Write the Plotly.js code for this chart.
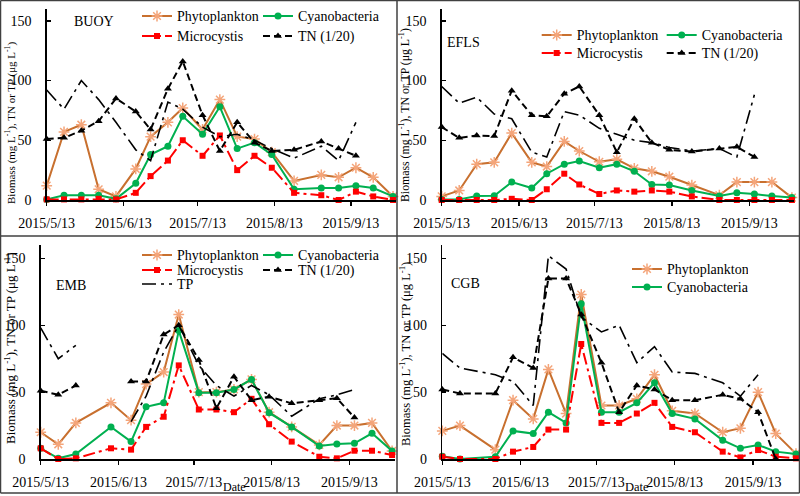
<!DOCTYPE html>
<html><head><meta charset="utf-8">
<script src="https://cdn.plot.ly/plotly-3.0.1.min.js"></script>
<style>html,body{margin:0;padding:0;background:#fff}#chart{width:800px;height:496px}</style>
</head><body><div id="chart"></div>
<script>
// ---- sampling dates (shared by all sites) ----
const dates = ['2015-05-13','2015-05-20','2015-05-27','2015-06-03','2015-06-10','2015-06-18','2015-06-24',
  '2015-07-01','2015-07-07','2015-07-15','2015-07-22','2015-07-29','2015-08-05','2015-08-12','2015-08-21',
  '2015-09-01','2015-09-08','2015-09-15','2015-09-22','2015-09-30'];
const tickDates = ['2015-05-13','2015-06-13','2015-07-13','2015-08-13','2015-09-13'];
const tickLabels = ['2015/5/13','2015/6/13','2015/7/13','2015/8/13','2015/9/13'];
const yTicks = [0, 50, 100, 150];
const siteNames = ['BUOY', 'EFLS', 'EMB', 'CGB'];
const seriesNames = ['Phytoplankton', 'Cyanobacteria', 'Microcystis', 'TN (1/20)', 'TP'];
const yTitle = 'Biomass (mg L<sup>-1</sup>), TN or TP (μg L<sup>-1</sup>)';
const xTitle = 'Date';

// ---- BUOY ----
const buoyPhyto = [12, 57, 63, 9, 3, 26, 53, 65, 77, 59, 84, 53, 51, 40, 16, 21, 19, 27, 19, 3];
const buoyCyano = [0.5, 4, 4, 4, 1, 14, 38, 45, 70, 55, 78, 43, 48, 38, 9, 10, 10, 12, 10, 3];
const buoyMicro = [0.5, 0.5, 0.5, 1, 0.5, 6, 20, 33, 50, 37, 54, 25, 37, 27, 6, 4, 0, 7, 3, 0];
const buoyTN    = [51, 52, 58, 66, 85, 74, 59, 93, 116, 71, 41, 65, 48, 41, 42, 49, 43, 37, null, null];
const buoyTP    = [92, 76, 100, 84, 65, 42, 33, 82, 76, 61, 53, 55, 50, 43, 35, 45, 33, 65, null, null];

// ---- EFLS ----
const eflsPhyto = [3, 8, 30, 31.5, 56, 31.5, 28, 49, 41, 32, 34, 26.5, 24, 19.5, 12.5, 4, 15, 15, 15, 2];
const eflsCyano = [0.5, 0.5, 3.3, 3.6, 15, 10, 22, 30, 32.6, 27, 30, 24, 13, 12.5, 8, 3.3, 6, 5, 3.3, 2];
const eflsMicro = [0, 0, 0, 0, 1, 0, 9, 22, 13, 5, 8, 7, 8, 7, 3, 0, 0, 0, 0, 0];
const eflsTN    = [61, 52, 54, 53.5, 91.5, 71, 70, 89, 95, 71, 40, 68, 48, 42, 40.5, 43, 44.5, 36, null, null];
const eflsTP    = [95, 81, 86, 72, 68, 40, 36, 74, 71, 60, 55, 50, 48, 44, 41, 43, 36, 88, null, null];

// ---- EMB ----
const embPhyto = [20, 11, 27, null, 42, 29, 56, 65, 108, 50, 50, 52, 59.5, 35, 24, 10.5, 25, 25, 27, 6];
const embCyano = [8, 0.5, 3.7, null, 24, 13, 39, 42, 96, 49.6, 49.6, 52, 59.5, 34.6, 24, 9.7, 11.2, 11.7, 19.2, 6];
const embMicro = [8, 0, 0.5, null, 8, 7, 24, 31.6, 70, 37, 37, 35, 45, 26, 13, 1.7, 0.5, 6.2, 6.2, 3];
const embTN    = [51, 48, 55, null, null, 58, 58, 93, 100, 74, 38, 61.5, 44, 46.6, 41.6, 44, 45.4, 31, null, null];
const embTP    = [98, 75, 85, null, null, 28, 47, 80, 100, 70, 55, 47, 55, 48, 32, 45, 48, 52, null, null];

// ---- CGB ----
const cgbPhyto = [21, 25, null, 7, 44, 30, 67, 34, 123, 40, 40, 45, 63, 36, 34, 20, 23, 50, 19, 4];
const cgbCyano = [2, 0, null, 1.7, 21, 19, 35, 27, 116, 35, 35, 42, 57, 34, 30, 14, 8, 10.5, 5.5, 3.7];
const cgbMicro = [1.7, 0, null, 0, 5.5, 9, 22, 22, 86, 27, 27, 34, 42, 24, 20, 5.5, 1.2, 6.7, 1.7, 0.5];
const cgbTN    = [52, 49, null, 49, 76, 68, 135, 135, 108, 72, 35, 55, 52, 44, 44, 48, 45, 35, 0, null];
const cgbTP    = [79, 68, null, 63, 58, 40, 152, 142, 106, 95, 100, 72, 84, 65, 64, 57, 47, 63, null, null];

// ---- layout helpers ----
const W = 800, H = 496;
const FONT = 'Liberation Serif, Times New Roman, serif';
const px = v => v / W;
const py = v => 1 - v / H;

const styles = [
  {mode: 'lines+markers', line: {color: '#C8702F', width: 2},
   marker: {symbol: 'asterisk-open', size: 9, color: '#F4A57A', line: {color: '#F4A57A', width: 1.5}}},
  {mode: 'lines+markers', line: {color: '#00B050', width: 2},
   marker: {symbol: 'circle', size: 7, color: '#00B050'}},
  {mode: 'lines+markers', line: {color: '#FF0000', width: 2, dash: '12px,4px,3px,4px'},
   marker: {symbol: 'square', size: 6, color: '#FF0000'}},
  {mode: 'lines+markers', line: {color: '#000000', width: 2, dash: '7px,4px'},
   marker: {symbol: 'triangle-up', size: 7, color: '#000000'}},
  {mode: 'lines', line: {color: '#000000', width: 1.6, dash: '14px,5px,3px,5px'}}
];

const panels = [
  {data: [buoyPhyto, buoyCyano, buoyMicro, buoyTN, buoyTP], xd: [46.7, 395.5], yd: [8.8, 200],
   legendOf: ['legend', 'legend', 'legend2', 'legend2', null], nutGaps: true,
   label: [94, 22], ytitle: [10, 123, 11]},
  {data: [eflsPhyto, eflsCyano, eflsMicro, eflsTN, eflsTP], xd: [441.7, 794.4], yd: [8.8, 200],
   legendOf: ['legend3', 'legend3', 'legend4', 'legend4', null], nutGaps: true,
   label: [464, 43], ytitle: [405, 115, 11.8]},
  {data: [embPhyto, embCyano, embMicro, embTN, embTP], xd: [40.7, 394.6], yd: [245, 459],
   legendOf: ['legend5', 'legend5', 'legend6', 'legend6', 'legend7'], nutGaps: false,
   label: [71, 285], ytitle: [10, 348, 13], date: [234, 487, 12]},
  {data: [cgbPhyto, cgbCyano, cgbMicro, cgbTN, cgbTP], xd: [442.3, 798.5], yd: [245, 459],
   legendOf: ['legend8', 'legend9', null, null, null], nutGaps: true,
   label: [465, 283], ytitle: [405, 354, 12.5], date: [637, 487, 12.5]}
];

const traces = [];
const layout = {
  width: W, height: H, margin: {l: 0, r: 0, t: 0, b: 0},
  paper_bgcolor: '#ffffff', plot_bgcolor: '#ffffff',
  showlegend: true, annotations: [], shapes: [],
  font: {family: FONT, color: '#000'}
};

panels.forEach((p, i) => {
  const sfx = i === 0 ? '' : String(i + 1);
  p.data.forEach((vals, s) => {
    const t = Object.assign({
      type: 'scatter', x: dates, y: vals, name: seriesNames[s],
      xaxis: 'x' + sfx, yaxis: 'y' + sfx, cliponaxis: false,
      connectgaps: s < 3 ? true : p.nutGaps, hoverinfo: 'skip'
    }, JSON.parse(JSON.stringify(styles[s])));
    if (p.legendOf[s]) { t.legend = p.legendOf[s]; t.showlegend = true; }
    else t.showlegend = false;
    traces.push(t);
  });
  layout['xaxis' + sfx] = {
    domain: [px(p.xd[0]), px(p.xd[1])], anchor: 'y' + sfx, type: 'date',
    range: ['2015-05-13', '2015-10-01'], tickmode: 'array', tickvals: tickDates, ticktext: tickLabels,
    ticks: 'outside', ticklen: 4, tickwidth: 1.5, tickcolor: '#000',
    showline: true, linecolor: '#000', linewidth: 1.5, showgrid: false, zeroline: false,
    tickfont: {family: FONT, size: 14, color: '#000'}, ticklabelstandoff: 6, fixedrange: true
  };
  layout['yaxis' + sfx] = {
    domain: [py(p.yd[1]), py(p.yd[0])], anchor: 'x' + sfx, range: [0, 160],
    tickmode: 'array', tickvals: yTicks, ticks: 'inside', ticklen: 4, tickwidth: 1.5, tickcolor: '#000',
    showline: true, linecolor: '#000', linewidth: 1.5, showgrid: false, zeroline: false,
    tickfont: {family: FONT, size: 14, color: '#000'}, ticklabelstandoff: 11, fixedrange: true
  };
  layout.annotations.push({text: siteNames[i], xref: 'paper', yref: 'paper', x: px(p.label[0]), y: py(p.label[1]),
    xanchor: 'center', yanchor: 'middle', showarrow: false, font: {family: FONT, size: 14, color: '#000'}});
  layout.annotations.push({text: yTitle, xref: 'paper', yref: 'paper', x: px(p.ytitle[0]), y: py(p.ytitle[1]),
    xanchor: 'center', yanchor: 'middle', textangle: -90, showarrow: false,
    font: {family: FONT, size: p.ytitle[2], color: '#000'}});
  if (p.date) {
    layout.annotations.push({text: xTitle, xref: 'paper', yref: 'paper', x: px(p.date[0]), y: py(p.date[1]),
      xanchor: 'center', yanchor: 'middle', showarrow: false, font: {family: FONT, size: p.date[2], color: '#000'}});
  }
});

function leg(xText, rowCenter, ew) {
  return {x: px(xText - 40), y: py(rowCenter - 15.6), xanchor: 'left', yanchor: 'top',
    orientation: 'h', bgcolor: 'rgba(0,0,0,0)', borderwidth: 0,
    entrywidth: ew, entrywidthmode: 'pixels',
    font: {family: FONT, size: 14, color: '#000'}};
}
layout.legend  = leg(177, 16, 76);
layout.legend2 = leg(177, 36, 76);
layout.legend3 = leg(576.7, 35, 80);
layout.legend4 = leg(576.7, 53, 80);
layout.legend5 = leg(177, 255, 76);
layout.legend6 = leg(177, 270, 76);
layout.legend7 = leg(177, 284, 76);
layout.legend8 = leg(667, 269, 76);
layout.legend9 = leg(667, 287, 76);

// panel frames
const frame = {color: '#404040', width: 1.5};
[[0.5, 0.5, 799.5, 0.5], [0.5, 493, 799.5, 493], [0.5, 0.5, 0.5, 493], [799.5, 0.5, 799.5, 493],
 [397, 0.5, 397, 493], [0.5, 236, 799.5, 236]].forEach(l => {
  layout.shapes.push({type: 'line', xref: 'paper', yref: 'paper', x0: px(l[0]), y0: py(l[1]),
    x1: px(l[2]), y1: py(l[3]), line: frame, layer: 'above'});
});

Plotly.newPlot('chart', traces, layout, {staticPlot: true, displayModeBar: false});
</script></body></html>
